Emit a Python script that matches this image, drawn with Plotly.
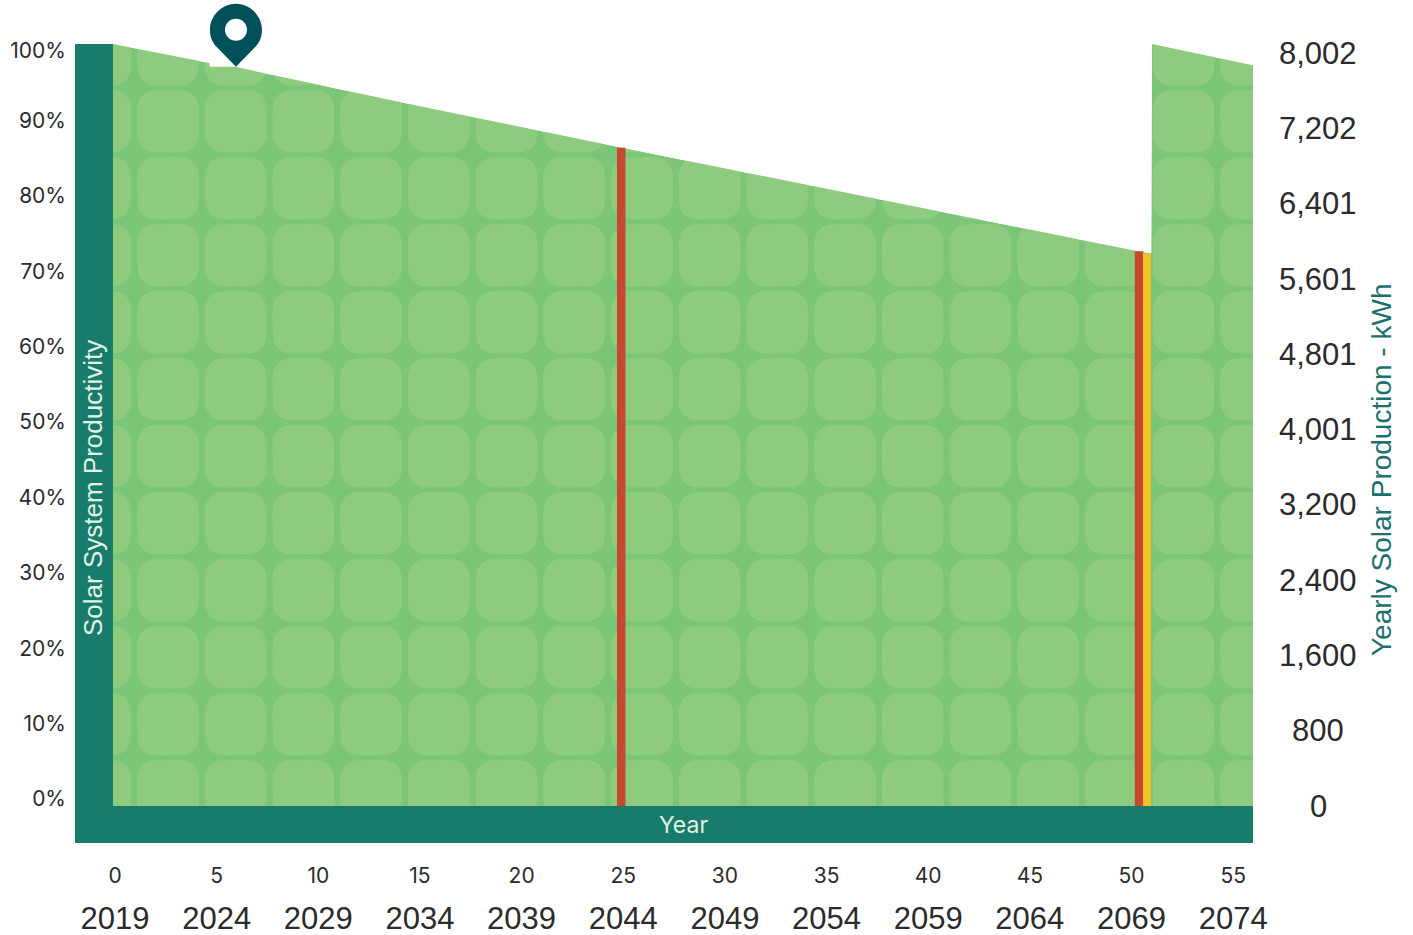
import math
import plotly.graph_objects as go

# ---- data ----
age_years = [-0.1, 4.65, 4.66, 5.9, 14.0, 25.0, 50.5, 50.97, 51.0, 56.0]
productivity_pct = [100, 97.5, 97.0, 97.0, 92.4, 86.35, 72.7, 72.5, 100, 97.2]
pct_ticks = [0, 10, 20, 30, 40, 50, 60, 70, 80, 90, 99.3]
pct_labels = ["0%", "10%", "20%", "30%", "40%", "50%", "60%", "70%", "80%", "90%", "100%"]
kwh_ticks = [0, 800, 1600, 2400, 3200, 4001, 4801, 5601, 6401, 7202, 8002]
kwh_labels = ["0", "800", "1,600", "2,400", "3,200", "4,001", "4,801", "5,601", "6,401", "7,202", "8,002"]
age_ticks = [0, 5, 10, 15, 20, 25, 30, 35, 40, 45, 50, 55]
calendar_ticks = [2019, 2024, 2029, 2034, 2039, 2044, 2049, 2054, 2059, 2064, 2069, 2074]
kwh_by_calendar_pct = [100, 97, 94.5, 92, 89, 86.4, 83.6, 81, 78, 75.4, 72.8, 97.4]
marker_ages = [24.9, 50.37]
marker_pct = [86.4, 72.8]
replace_age = [50.76]
replace_pct = [72.5]
pin_age = 5.95
pin_pct = 97.0

W, H = 1413, 935
PX_L, PX_R, PX_T, PX_B = 75.0, 1253.0, 0.0, 843.0
PX_X0 = 115.0
PX_PER_YEAR = 20.33
PX_Y0 = 806.0
PX_PER_PCT = 7.62
x_range = [(PX_L - PX_X0) / PX_PER_YEAR, (PX_R - PX_X0) / PX_PER_YEAR]
y_range = [(PX_Y0 - PX_B) / PX_PER_PCT, (PX_Y0 - PX_T) / PX_PER_PCT]


def paper_x(px):
    return (px - PX_L) / (PX_R - PX_L)


def paper_y(py):
    return 1 - py / H


GREEN = "#7ac576"
TILE = "#8ecb7e"
TEAL = "#177c6b"
PIN = "#00505a"
RED = "#c5482f"
YELLOW = "#f0c420"
INK = "#2b2b2b"
BODY = "Liberation Sans, Arial, sans-serif"
SMALL = "Inter, Lato, sans-serif"

# decorative solar-cell texture: rounded tiles in chart units
tile_x, tile_y = [], []
PERIOD_X, PERIOD_Y = 67.7 / PX_PER_YEAR, 67.0 / PX_PER_PCT
TILE_W, TILE_H = 62.0 / PX_PER_YEAR, 62.5 / PX_PER_PCT
RAD_X, RAD_Y = 21.0 / PX_PER_YEAR, 21.0 / PX_PER_PCT
start_x = (137.0 - 67.7 - PX_X0) / PX_PER_YEAR
start_y = (PX_Y0 - 822.5) / PX_PER_PCT
for col in range(19):
    for row in range(13):
        x0 = start_x + col * PERIOD_X
        y0 = start_y + row * PERIOD_Y
        corners = [
            (x0 + TILE_W - RAD_X, y0 + TILE_H - RAD_Y, 0),
            (x0 + RAD_X, y0 + TILE_H - RAD_Y, 90),
            (x0 + RAD_X, y0 + RAD_Y, 180),
            (x0 + TILE_W - RAD_X, y0 + RAD_Y, 270),
        ]
        for cx, cy, a0 in corners:
            for k in range(9):
                t = math.radians(a0 + k * 90 / 8)
                c, s = math.cos(t), math.sin(t)
                tile_x.append(cx + RAD_X * abs(c) ** 0.85 * (1 if c >= 0 else -1))
                tile_y.append(cy + RAD_Y * abs(s) ** 0.85 * (1 if s >= 0 else -1))
        tile_x.append(None)
        tile_y.append(None)

fig = go.Figure()
none_line = dict(width=0)
# green production area
fig.add_trace(go.Scatter(x=age_years, y=productivity_pct, mode="lines", line=none_line,
                         fill="tozeroy", fillcolor=GREEN, hoverinfo="skip", showlegend=False))
# tile texture
fig.add_trace(go.Scatter(x=tile_x, y=tile_y, mode="lines", line=none_line, fill="toself",
                         fillcolor=TILE, hoverinfo="skip", showlegend=False))
# white sky above the productivity line hides the tiles there
fig.add_trace(go.Scatter(x=age_years, y=[y_range[1]] * len(age_years), mode="lines", line=none_line,
                         hoverinfo="skip", showlegend=False))
fig.add_trace(go.Scatter(x=age_years, y=productivity_pct, mode="lines", line=none_line,
                         fill="tonexty", fillcolor="#ffffff", hoverinfo="skip", showlegend=False))
# event markers
for a, p in zip(marker_ages, marker_pct):
    fig.add_trace(go.Scatter(x=[a, a], y=[0, p], mode="lines", line=dict(color=RED, width=8.5),
                             hoverinfo="skip", showlegend=False))
for a, p in zip(replace_age, replace_pct):
    fig.add_trace(go.Scatter(x=[a, a], y=[0, p], mode="lines", line=dict(color=YELLOW, width=8),
                             hoverinfo="skip", showlegend=False))
# traces that carry the secondary scales
transparent = dict(color="rgba(0,0,0,0)", width=0)
fig.add_trace(go.Scatter(x=age_years, y=productivity_pct, yaxis="y2", mode="lines", line=transparent,
                         hoverinfo="skip", showlegend=False))
fig.add_trace(go.Scatter(x=calendar_ticks, y=[8002 * 0.01 * p for p in kwh_by_calendar_pct],
                         xaxis="x2", yaxis="y3", mode="lines", line=transparent,
                         hoverinfo="skip", showlegend=False))

shapes = [
    dict(type="rect", xref="x", yref="y", x0=x_range[0], x1=-0.1, y0=100, y1=y_range[1],
         fillcolor="#ffffff", line_width=0, layer="above"),
    dict(type="rect", xref="x", yref="y", x0=x_range[0], x1=-0.1, y0=y_range[0], y1=100,
         fillcolor=TEAL, line_width=0, layer="above"),
    dict(type="rect", xref="x", yref="y", x0=x_range[0], x1=x_range[1], y0=y_range[0], y1=0,
         fillcolor=TEAL, line_width=0, layer="above"),
    dict(type="path", xref="x", yref="y", xsizemode="pixel", ysizemode="pixel",
         xanchor=pin_age, yanchor=pin_pct,
         path="M 0 0 L -18 18.5 C -24 24 -26 30 -26 37 C -26 51 -14 63 0 63 C 14 63 26 51 26 37 C 26 30 24 24 18 18.5 Z",
         fillcolor=PIN, line_width=0, layer="above"),
    dict(type="path", xref="x", yref="y", xsizemode="pixel", ysizemode="pixel",
         xanchor=pin_age, yanchor=pin_pct,
         path="M -11 37 C -11 30.9 -6.1 26 0 26 C 6.1 26 11 30.9 11 37 C 11 43.1 6.1 48 0 48 C -6.1 48 -11 43.1 -11 37 Z",
         fillcolor="#ffffff", line_width=0, layer="above"),
]

annotations = [
    dict(text="Solar System Productivity", x=paper_x(93), y=paper_y(488), xref="paper", yref="paper",
         xanchor="center", yanchor="middle", textangle=-90, showarrow=False,
         font=dict(family=BODY, size=26, color="#e4f2e4")),
    dict(text="Year", x=paper_x(683), y=paper_y(825), xref="paper", yref="paper",
         xanchor="center", yanchor="middle", showarrow=False,
         font=dict(family=SMALL, size=23, color="#e4f2e4")),
    dict(text="Yearly Solar Production - kWh", x=paper_x(1381), y=paper_y(470), xref="paper", yref="paper",
         xanchor="center", yanchor="middle", textangle=-90, showarrow=False,
         font=dict(family=BODY, size=28, color="#1c6f6c")),
]
for v, label in zip(kwh_ticks, kwh_labels):
    annotations.append(dict(text=label, x=paper_x(1318), y=v, xref="paper", yref="y3", showarrow=False,
                            xanchor="center", yanchor="middle",
                            font=dict(family=BODY, size=31, color=INK)))

domain_y = [1 - PX_B / H, 1 - PX_T / H]
fig.update_layout(
    width=W, height=H,
    margin=dict(l=PX_L, r=W - PX_R, t=PX_T, b=0, pad=0, autoexpand=False),
    paper_bgcolor="#ffffff", plot_bgcolor="#ffffff",
    hovermode=False, showlegend=False,
    shapes=shapes, annotations=annotations,
    xaxis=dict(range=x_range, domain=[0, 1], tickmode="array", tickvals=age_ticks,
               ticktext=[str(a) for a in age_ticks], anchor="y", side="bottom", ticks="",
               ticklabelstandoff=18, showgrid=False, zeroline=False, showline=False,
               tickfont=dict(family=SMALL, size=21, color=INK), automargin=False),
    xaxis2=dict(range=[2019 + x_range[0], 2019 + x_range[1]], overlaying="x", domain=[0, 1], anchor="free",
                position=1 - 897 / H, side="bottom", tickmode="array", tickvals=calendar_ticks,
                ticktext=[str(c) for c in calendar_ticks], ticks="", showgrid=False, zeroline=False,
                showline=False, tickfont=dict(family=BODY, size=31, color=INK), automargin=False),
    yaxis=dict(range=y_range, domain=domain_y, visible=False, fixedrange=True),
    yaxis2=dict(range=[(799 - PX_B) / 7.54, (799 - PX_T) / 7.54], overlaying="y", domain=domain_y, side="left",
                anchor="x", tickmode="array", tickvals=pct_ticks, ticktext=pct_labels, ticks="",
                ticklabelstandoff=8, showgrid=False, zeroline=False, showline=False,
                tickfont=dict(family=SMALL, size=21, color=INK), automargin=False),
    yaxis3=dict(range=[(806 - PX_B) / 0.09408, (806 - PX_T) / 0.09408], overlaying="y", domain=domain_y,
                side="right", anchor="x", showticklabels=False, ticks="", showgrid=False,
                zeroline=False, showline=False, automargin=False),
)

fig.write_html("out.html", config=dict(displayModeBar=False),
               post_script="document.body.style.margin='0';document.body.style.overflow='hidden';")
